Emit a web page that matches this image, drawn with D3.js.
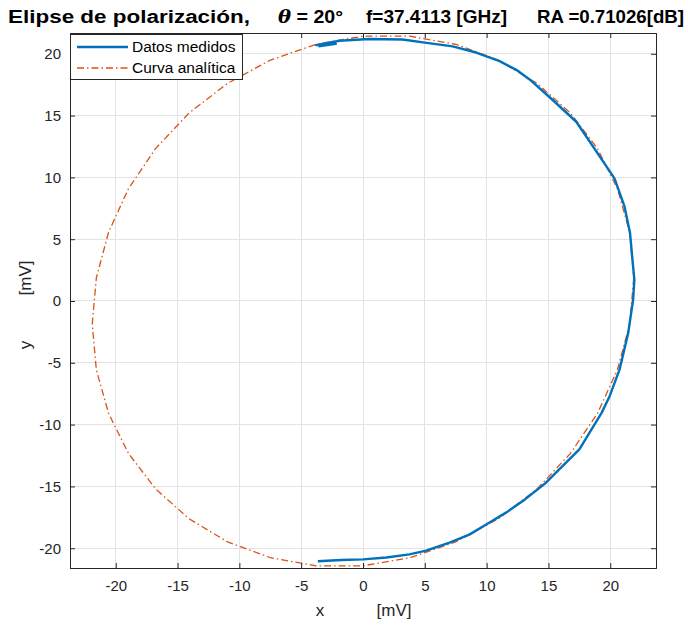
<!DOCTYPE html>
<html><head><meta charset="utf-8">
<script src="https://cdn.jsdelivr.net/npm/d3@7"></script>
<style>body{margin:0;background:#fff}svg{display:block}text{font-family:"Liberation Sans",Arial,Helvetica,sans-serif}</style>
</head><body>
<svg id="c" width="688" height="626"></svg>
<script>
// Measured data (x, y in mV)
const medX = [-3.65,-1.75,0,1.9,3.75,5.1,7.0,8.6,10.1,11.6,13.1,14.8,17.5,19.3,19.95,20.75,21.45,21.85,21.95,21.8,21.6,21.15,20.35,19.95,17.25,15.3,13.5,12.4,11.05,9.15,7.25,5.0,3.2,0.5,-1.9,-3.8,-2.2,-3.6];
const medY = [-21.05,-20.95,-20.9,-20.75,-20.5,-20.2,-19.55,-18.9,-18.0,-17.1,-16.05,-14.7,-12.0,-9.05,-7.7,-5.55,-2.6,0.1,1.7,3.3,5.5,7.65,9.9,10.5,14.5,16.3,17.9,18.7,19.4,20.1,20.6,20.9,21.15,21.2,21.05,20.7,20.8,20.6];
// Analytic curve points (x, y in mV)
const anaX = [21.9,21.57,20.58,18.97,16.78,14.08,10.95,7.49,3.80,0,-3.80,-7.49,-10.95,-14.08,-16.78,-18.97,-20.58,-21.57,-21.9,-21.57,-20.58,-18.97,-16.78,-14.08,-10.95,-7.49,-3.80,0,3.80,7.49,10.95,14.08,16.78,18.97,20.58,21.57,21.9];
const anaY = [1.87,-1.87,-5.56,-9.09,-12.33,-15.20,-17.61,-19.49,-20.77,-21.42,-21.42,-20.77,-19.49,-17.61,-15.20,-12.33,-9.09,-5.56,-1.87,1.87,5.56,9.09,12.33,15.20,17.61,19.49,20.77,21.42,21.42,20.77,19.49,17.61,15.20,12.33,9.09,5.56,1.87];
const xTicks = [-20,-15,-10,-5,0,5,10,15,20];
const yTicks = [-20,-15,-10,-5,0,5,10,15,20];
const seriesNames = ["Datos medidos","Curva analítica"];

const svg = d3.select("#c");
const L=70, R=656, T=33, B=568;
const x = d3.scaleLinear().domain([-23.7,23.7]).range([L,R]);
const y = d3.scaleLinear().domain([-21.6,21.68]).range([B,T]);
const axisCol="#262626";

// grid
const g = svg.append("g");
g.selectAll(".gx").data(xTicks).enter().append("line")
 .attr("x1",d=>x(d)).attr("x2",d=>x(d)).attr("y1",T).attr("y2",B)
 .attr("stroke","#e3e3e3").attr("stroke-width",1).attr("shape-rendering","crispEdges");
g.selectAll(".gy").data(yTicks).enter().append("line")
 .attr("y1",d=>y(d)).attr("y2",d=>y(d)).attr("x1",L).attr("x2",R)
 .attr("stroke","#e3e3e3").attr("stroke-width",1).attr("shape-rendering","crispEdges");

// clip
svg.append("clipPath").attr("id","clip").append("rect").attr("x",L).attr("y",T-2).attr("width",R-L).attr("height",B-T+4);

const line = d3.line().x(d=>x(d[0])).y(d=>y(d[1]));
const ana = anaX.map((v,i)=>[v,anaY[i]]);
const med = medX.map((v,i)=>[v,medY[i]]);
svg.append("path").attr("clip-path","url(#clip)").attr("d",line(ana)).attr("fill","none")
 .attr("stroke","#D95319").attr("stroke-width",1.3).attr("stroke-dasharray","7,3,1.5,3");
svg.append("path").attr("clip-path","url(#clip)").attr("d",line(med)).attr("fill","none")
 .attr("stroke","#0072BD").attr("stroke-width",2.4).attr("stroke-linejoin","round");

// axes
const xb = svg.append("g").attr("transform",`translate(0,${B})`)
 .call(d3.axisBottom(x).tickValues(xTicks).tickSize(-5).tickPadding(12).tickFormat(d3.format("d")));
const xt = svg.append("g").attr("transform",`translate(0,${T})`)
 .call(d3.axisTop(x).tickValues(xTicks).tickSize(-5).tickFormat(""));
const yl = svg.append("g").attr("transform",`translate(${L},0)`)
 .call(d3.axisLeft(y).tickValues(yTicks).tickSize(-5).tickPadding(9).tickFormat(d3.format("d")));
const yr = svg.append("g").attr("transform",`translate(${R},0)`)
 .call(d3.axisRight(y).tickValues(yTicks).tickSize(-5).tickFormat(""));
[xb,xt,yl,yr].forEach(a=>{
  a.select(".domain").attr("stroke",axisCol).attr("stroke-width",1);
  a.selectAll(".tick line").attr("stroke",axisCol);
  a.selectAll("text").attr("font-size",15).attr("fill","#262626")
   .attr("font-family","'Liberation Sans',Arial,sans-serif");
});
xb.selectAll("text").text(d=>d<0?"-"+Math.abs(d):d);
yl.selectAll("text").text(d=>d<0?"-"+Math.abs(d):d);

// axis labels
svg.append("text").attr("x",320).attr("y",616).attr("text-anchor","middle").attr("font-size",17).attr("fill","#262626").text("x");
svg.append("text").attr("x",394).attr("y",616).attr("text-anchor","middle").attr("font-size",17).attr("fill","#262626").text("[mV]");
svg.append("text").attr("transform","translate(31,345) rotate(-90)").attr("text-anchor","middle").attr("font-size",17).attr("fill","#262626").text("y");
svg.append("text").attr("transform","translate(31,278) rotate(-90)").attr("text-anchor","middle").attr("font-size",17).attr("fill","#262626").text("[mV]");

// title
const tt = svg.append("g").attr("font-size",18).attr("font-weight","bold").attr("fill","#000");
tt.append("text").attr("x",8).attr("y",23).attr("textLength",242).attr("lengthAdjust","spacingAndGlyphs").text("Elipse de polarización,");
const th = tt.append("text").attr("x",278).attr("y",23).attr("textLength",65).attr("lengthAdjust","spacingAndGlyphs");
th.append("tspan").attr("font-style","italic").attr("font-family","'DejaVu Serif','Liberation Serif',serif").text("θ");
th.append("tspan").text(" = 20°");
tt.append("text").attr("x",366).attr("y",23).attr("textLength",141).attr("lengthAdjust","spacingAndGlyphs").text("f=37.4113 [GHz]");
tt.append("text").attr("x",537).attr("y",23).attr("textLength",147).attr("lengthAdjust","spacingAndGlyphs").text("RA =0.71026[dB]");

// legend
const lg = svg.append("g");
lg.append("rect").attr("x",70.5).attr("y",34.5).attr("width",172).attr("height",45)
 .attr("fill","#fff").attr("stroke","#262626").attr("stroke-width",1);
lg.append("line").attr("x1",77).attr("x2",128).attr("y1",47).attr("y2",47).attr("stroke","#0072BD").attr("stroke-width",2.4);
lg.append("line").attr("x1",77).attr("x2",128).attr("y1",68).attr("y2",68).attr("stroke","#D95319").attr("stroke-width",1.3).attr("stroke-dasharray","7,3,1.5,3");
lg.selectAll(".lt").data(seriesNames).enter().append("text")
 .attr("x",132).attr("y",(d,i)=>52+i*21).attr("font-size",15.5).attr("fill","#000").text(d=>d);
</script>
</body></html>
